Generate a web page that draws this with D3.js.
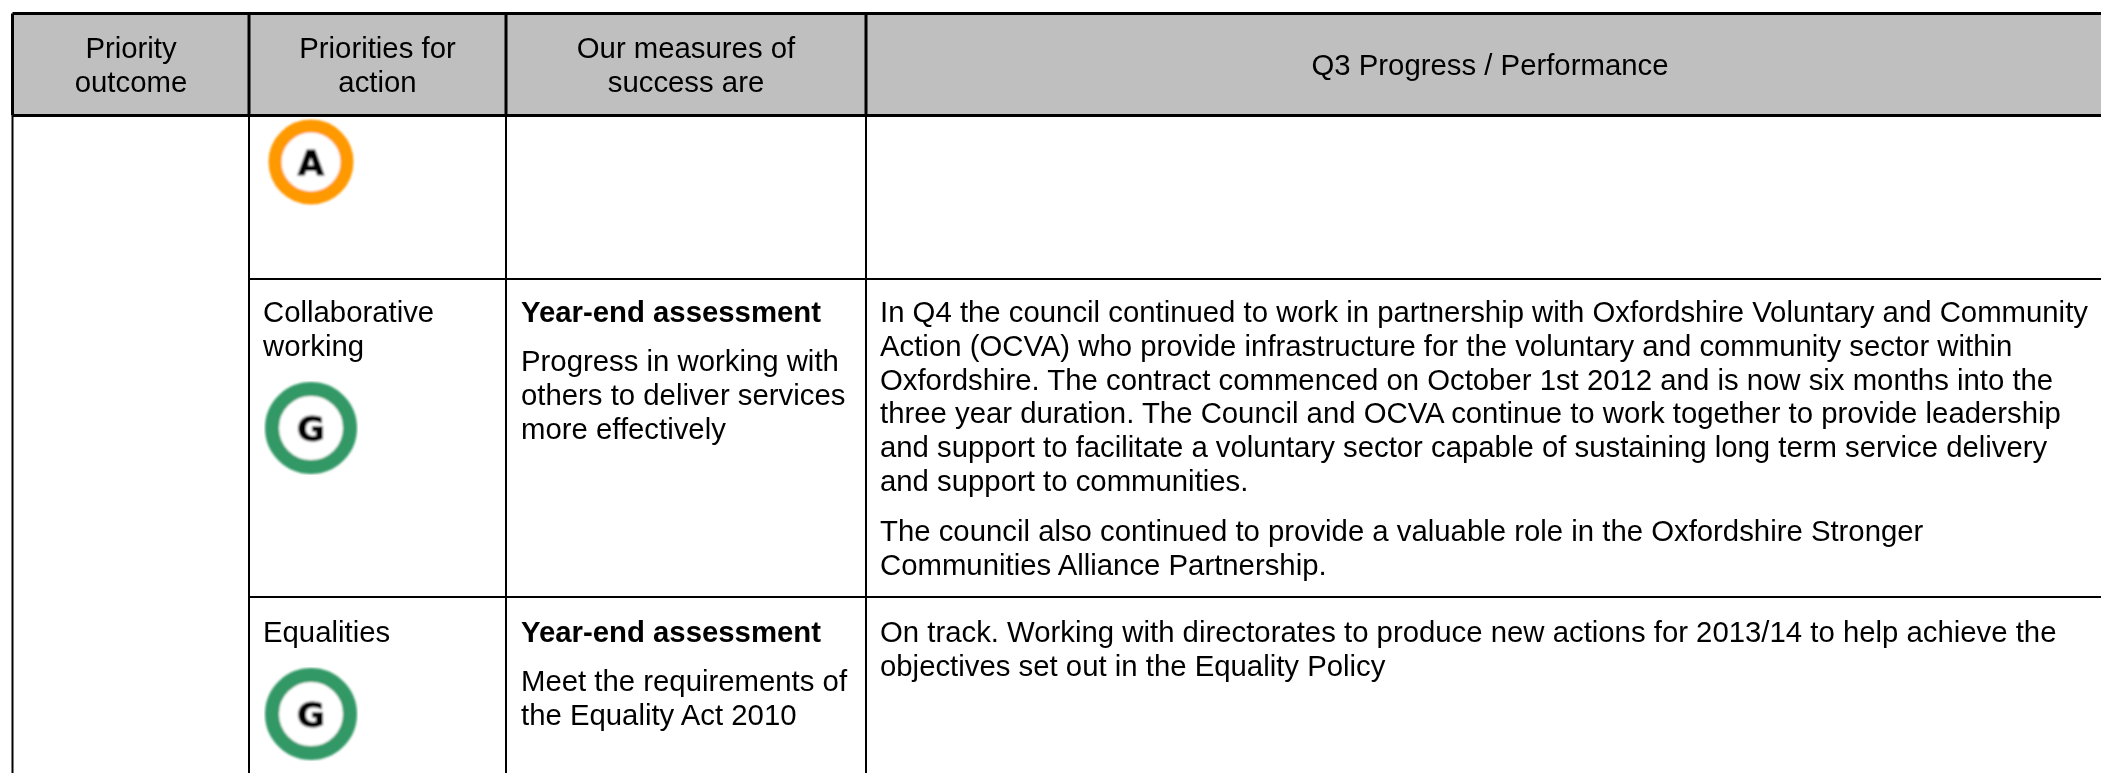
<!DOCTYPE html>
<html>
<head>
<meta charset="utf-8">
<script src="https://cdnjs.cloudflare.com/ajax/libs/d3/7.8.5/d3.min.js"></script>
<style>
  html, body { margin: 0; padding: 0; background: #fff; }
  svg { display: block; }
  text { font-family: "Liberation Sans", Arial, sans-serif; fill: #000; }
</style>
</head>
<body>
<svg id="chart"></svg>
<script>
// table content
const headers = [
    ["Priority", "outcome"],
    ["Priorities for", "action"],
    ["Our measures of", "success are"],
    ["Q3 Progress / Performance"]
];
const priorities = [[], ["Collaborative", "working"], ["Equalities"]];
const ratings = ["A", "G", "G"];
const assessmentTitles = ["", "Year-end assessment", "Year-end assessment"];
const measures = [
    [],
    ["Progress in working with", "others to deliver services", "more effectively"],
    ["Meet the requirements of", "the Equality Act 2010"]
];
const progressFirst = [
    [],
    [
        "In Q4 the council continued to work in partnership with Oxfordshire Voluntary and Community",
        "Action (OCVA) who provide infrastructure for the voluntary and community sector within",
        "Oxfordshire. The contract commenced on October 1st 2012 and is now six months into the",
        "three year duration. The Council and OCVA continue to work together to provide leadership",
        "and support to facilitate a voluntary sector capable of sustaining long term service delivery",
        "and support to communities."
    ],
    [
        "On track. Working with directorates to produce new actions for 2013/14 to help achieve the",
        "objectives set out in the Equality Policy"
    ]
];
const progressSecond = [
    [],
    [
        "The council also continued to provide a valuable role in the Oxfordshire Stronger",
        "Communities Alliance Partnership."
    ],
    []
];
const ratingColours = { A: "#ff9900", G: "#339966" };

// layout
const width = 2101, height = 773;
const fontSize = 29.33, lineHeight = 33.8;
const colEdges = [12.5, 249, 506, 866, 2101];
const headCentres = [131, 377.5, 686, 1490];
const headTop = 13.5, headBottom = 115.5;
const rowEdges = [115.5, 279, 597, 773];
const rowBaseline = [0, 322, 642];
const iconY = [162, 428, 714];
const iconX = 311;

const svg = d3.select("#chart").attr("width", width).attr("height", height);

const defs = svg.append("defs");
defs.append("filter").attr("id", "soft")
    .append("feGaussianBlur").attr("stdDeviation", 0.9);
defs.append("filter").attr("id", "textSoft")
    .append("feGaussianBlur").attr("stdDeviation", 0.35);

// header band
svg.append("rect")
    .attr("x", colEdges[0]).attr("y", headTop)
    .attr("width", width - colEdges[0]).attr("height", headBottom - headTop)
    .attr("fill", "#bfbfbf");

const textLayer = svg.append("g").attr("filter", "url(#textSoft)");

headers.forEach((lines, i) => {
    const y0 = lines.length == 2 ? 58 : 75;
    textLayer.append("g").selectAll("text").data(lines).enter().append("text")
        .attr("x", headCentres[i])
        .attr("y", (d, j) => y0 + j * lineHeight)
        .attr("text-anchor", "middle")
        .style("font-size", fontSize + "px")
        .text(d => d);
});

function textBlock(lines, x, y, bold) {
    textLayer.append("g").selectAll("text").data(lines).enter().append("text")
        .attr("x", x)
        .attr("y", (d, j) => y + j * lineHeight)
        .style("font-size", fontSize + "px")
        .style("font-weight", bold ? "bold" : "normal")
        .text(d => d);
}

// body rows
ratings.forEach((r, i) => {
    const y = rowBaseline[i];
    textBlock(priorities[i], colEdges[1] + 14, y);
    if (assessmentTitles[i]) {
        textBlock([assessmentTitles[i]], colEdges[2] + 15, y, true);
    }
    textBlock(measures[i], colEdges[2] + 15, y + 49);
    textBlock(progressFirst[i], colEdges[3] + 14, y);
    textBlock(progressSecond[i], colEdges[3] + 14, y + 219);
});

// rating rings, slightly soft like the pasted bitmap
const icons = svg.append("g").selectAll("g").data(ratings).enter().append("g")
    .attr("transform", (d, i) => `translate(${iconX},${iconY[i]})`)
    .attr("filter", "url(#soft)");
icons.append("circle")
    .attr("r", (d, i) => i == 0 ? 36 : 39)
    .attr("fill", "#fff")
    .attr("stroke", d => ratingColours[d])
    .attr("stroke-width", (d, i) => i == 0 ? 13 : 14);
icons.append("text")
    .attr("text-anchor", "middle")
    .attr("y", 12.5)
    .style("font-size", "34px")
    .style("font-weight", "bold")
    .style("font-family", "'DejaVu Sans', sans-serif")
    .style("stroke", "#000")
    .style("stroke-width", 1)
    .text(d => d);

// rules
const rule = (x1, y1, x2, y2, w) => svg.append("line")
    .attr("x1", x1).attr("y1", y1).attr("x2", x2).attr("y2", y2)
    .attr("stroke", "#000").attr("stroke-width", w);

colEdges.slice(0, 4).forEach(x => rule(x, headTop, x, headBottom, 3));
colEdges.slice(0, 4).forEach(x => rule(x, headBottom, x, height, 2));
rule(colEdges[0], headTop, width, headTop, 3);
rule(colEdges[0], headBottom, width, headBottom, 3);
rowEdges.slice(1, 3).forEach(y => rule(colEdges[1], y, width, y, 2));
</script>
</body>
</html>
